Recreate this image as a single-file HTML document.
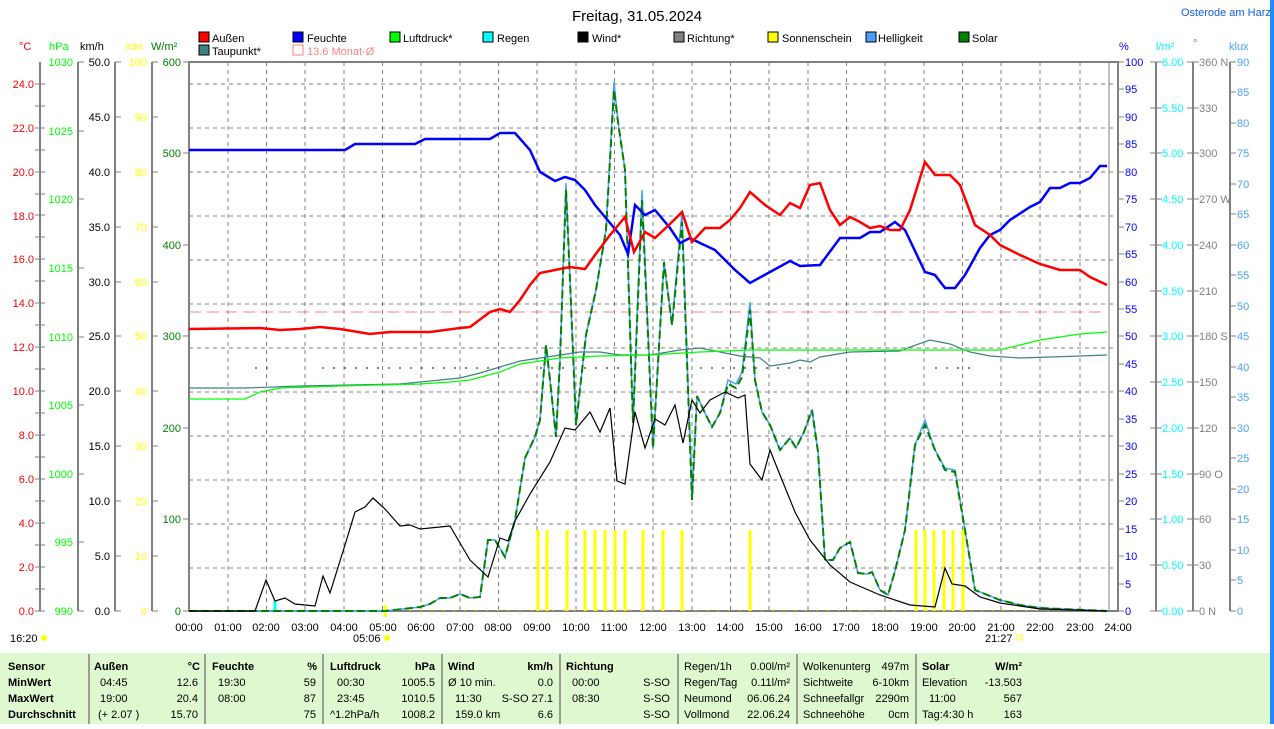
<!DOCTYPE html>
<html><head><meta charset="utf-8">
<style>
body{margin:0;width:1274px;height:724px;overflow:hidden;background:#fff;font-family:"Liberation Sans",sans-serif;}
svg text{font-family:"Liberation Sans",sans-serif;font-size:11px;}
</style></head><body>
<svg width="1274" height="724" viewBox="0 0 1274 724" xmlns="http://www.w3.org/2000/svg">
<rect x="1270" y="0" width="4" height="724" fill="#1e8cff"/>
<text x="637" y="21" text-anchor="middle" style="font-size:15px">Freitag, 31.05.2024</text>
<text x="1181" y="16" fill="#1060e0" style="font-size:11px">Osterode am Harz</text>

<g stroke="#000" stroke-width="1">
<rect x="199" y="32" width="10" height="10" fill="#f00"/>
<rect x="293" y="32" width="10" height="10" fill="#00f"/>
<rect x="390" y="32" width="10" height="10" fill="#0f0"/>
<rect x="483" y="32" width="10" height="10" fill="#0ff"/>
<rect x="578" y="32" width="10" height="10" fill="#000"/>
<rect x="674" y="32" width="10" height="10" fill="#808080"/>
<rect x="768" y="32" width="10" height="10" fill="#ff0"/>
<rect x="866" y="32" width="10" height="10" fill="#4aa0ff"/>
<rect x="959" y="32" width="10" height="10" fill="#008000"/>
<rect x="199" y="45" width="10" height="10" fill="#408080"/>
</g>
<rect x="293" y="45" width="10" height="10" fill="none" stroke="#ff8080"/>
<g font-size="11">
<text x="212" y="42">Außen</text><text x="307" y="42">Feuchte</text><text x="403" y="42">Luftdruck*</text>
<text x="497" y="42">Regen</text><text x="592" y="42">Wind*</text><text x="687" y="42">Richtung*</text>
<text x="782" y="42">Sonnenschein</text><text x="878" y="42">Helligkeit</text><text x="972" y="42">Solar</text>
<text x="212" y="55">Taupunkt*</text><text x="307" y="55" fill="#ff8080">13.6 Monat-Ø</text>
</g>

<text x="19" y="50" fill="#f00">°C</text>
<text x="49" y="50" fill="#0f0">hPa</text>
<text x="80" y="50">km/h</text>
<text x="125" y="50" fill="#ff0">min</text>
<text x="151" y="50" fill="#008000">W/m²</text>
<text x="1119" y="50" fill="#00f">%</text>
<text x="1156" y="50" fill="#0ff">l/m²</text>
<text x="1193" y="47" fill="#808080">°</text>
<text x="1229" y="50" fill="#4aa0ff">klux</text>

<g stroke="#808080" stroke-dasharray="4,4" stroke-width="1">
<path d="M228,62V611M266.5,62V611M305,62V611M344,62V611M382.5,62V611M421,62V611M460,62V611M498.5,62V611M537,62V611M576,62V611M614.5,62V611M653,62V611M692,62V611M730.5,62V611M769,62V611M808,62V611M846.5,62V611M885,62V611M924,62V611M962.5,62V611M1001,62V611M1040,62V611M1080,62V611"/>
<path d="M189,84H1118M189,128H1118M189,172H1118M189,216H1118M189,260H1118M189,304H1118M189,348H1118M189,392H1118M189,436H1118M189,480H1118M189,524H1118M189,568H1118"/>
</g>
<path d="M1109,62V611" stroke="#808080"/>
<rect x="189" y="62" width="929" height="549" fill="none" stroke="#808080" stroke-width="2"/>

<path d="M189,312H1107" stroke="#ff8080" stroke-dasharray="12,6"/>
<g stroke="#808080" stroke-width="2" stroke-dasharray="2,9">
<path d="M255,368H270M322,368H500M540,368H620M700,368H820M935,368H975"/>
</g>
<path d="M189,610H1107" stroke="#ff0" stroke-dasharray="2,9"/>

<g stroke="#ff0" stroke-width="3">
<path d="M538,530V611M547,530V611M567,530V611M585,530V611M595,530V611M605,530V611M615,530V611M625,530V611M643,530V611M663,530V611M682,530V611M750,530V611M916,530V611M925,530V611M934,530V611M944,530V611M953,530V611M963,530V611M385,605V617"/>
</g>
<path d="M275,600V611" stroke="#0ff" stroke-width="3"/>

<polyline fill="none" stroke="#4aa0ff" stroke-width="1.5" points="189,611 385,611 420,607 430,604 440,598 450,598 460,594 470,598 480,597 488,540 495,540 505,557 515,520 525,458 535,437 540,420 546,345 550,380 556,437 560,360 566,183 570,280 576,425 586,335 596,290 606,230 614,82 618,122 625,170 633,423 642,190 653,448 664,262 672,325 682,212 692,500 697,396 705,413 712,427 720,413 728,380 736,384 742,372 750,302 755,380 762,412 770,425 780,450 790,438 796,448 804,432 812,410 818,452 825,560 833,560 840,548 850,542 858,573 867,574 872,572 880,590 888,595 895,571 905,530 915,445 925,420 935,450 945,468 955,470 965,530 975,590 1000,600 1020,605 1040,608 1107,611"/>
<polyline fill="none" stroke="#008000" stroke-width="2" stroke-dasharray="8,4" points="189,611 385,611 420,607 430,604 440,598 450,598 460,594 470,598 480,597 488,540 495,540 505,557 515,520 525,458 535,437 540,420 546,345 550,380 556,437 560,360 566,190 570,280 576,425 586,335 596,290 606,230 614,90 618,122 625,170 633,423 642,200 653,448 664,262 672,325 682,222 692,500 697,396 705,413 712,427 720,413 728,384 736,388 742,377 750,310 755,380 762,412 770,425 780,450 790,438 796,448 804,432 812,410 818,452 825,560 833,560 840,548 850,542 858,573 867,574 872,572 880,590 888,595 895,571 905,530 915,445 925,425 935,450 945,470 955,472 965,530 975,590 1000,600 1020,605 1040,608 1107,611"/>

<polyline fill="none" stroke="#000" stroke-width="1.2" points="189,611 255,611 266,580 275,601 285,598 295,604 315,606 323,576 330,593 345,545 355,512 365,507 373,498 385,509 400,526 410,525 420,529 450,526 470,560 488,577 500,538 508,541 515,521 530,494 550,462 565,428 575,430 590,412 600,432 610,408 617,481 625,484 635,412 645,448 655,419 665,425 675,405 683,443 692,400 700,413 710,400 725,392 738,398 745,395 750,464 762,480 770,450 780,475 795,512 810,540 830,565 850,582 880,595 910,605 935,607 945,568 952,584 965,586 980,597 1000,603 1040,609 1107,611"/>

<polyline fill="none" stroke="#408080" stroke-width="1.2" points="189,388 245,388 300,386 400,384 460,378 480,373 500,367 520,361 560,355 580,352 600,352 620,355 650,355 680,350 700,348 720,352 740,356 760,358 770,366 790,363 800,360 810,362 820,357 850,352 900,351 910,347 930,340 950,344 970,352 990,356 1020,358 1050,357 1080,356 1107,355"/>
<polyline fill="none" stroke="#0f0" stroke-width="1.2" points="189,399 245,399 260,392 280,388 340,386 420,384 450,382 470,380 500,372 520,364 560,358 600,356 650,355 700,352 750,350 800,350 900,350 1000,350 1020,345 1040,340 1080,334 1107,332"/>
<polyline fill="none" stroke="#00f" stroke-width="2.5" points="189,150 345,150 355,144 415,144 425,139 490,139 500,133 515,133 530,150 540,172 555,181 565,177 575,180 585,190 595,205 610,223 620,235 628,254 635,205 645,215 655,210 670,228 680,243 690,238 700,243 715,250 735,270 750,283 770,272 790,261 800,266 820,265 840,238 860,238 870,232 880,232 895,222 905,230 925,272 935,275 945,288 955,288 965,275 980,248 990,235 1000,230 1010,220 1030,207 1040,202 1050,188 1060,188 1070,183 1080,183 1090,178 1100,166 1107,166"/>
<polyline fill="none" stroke="#f00" stroke-width="2.5" points="189,329 260,328 280,330 300,329 320,327 340,329 370,334 390,332 430,332 460,328 470,327 490,312 500,309 510,312 520,300 530,285 540,273 555,270 570,267 585,269 595,255 610,235 625,217 634,252 645,232 655,238 670,224 682,212 692,242 705,228 720,228 730,220 740,208 750,192 765,205 780,215 790,203 800,208 810,185 820,183 830,210 840,225 850,217 860,222 870,228 880,226 890,230 900,230 910,210 925,162 935,175 950,175 960,185 975,225 990,235 1000,245 1020,255 1040,264 1060,270 1080,270 1090,277 1107,285"/>

<g stroke="#808080" stroke-width="2"><path d="M40,62V611M78,62V611M115,62V611M152,62V611"/></g>
<g stroke="#808080" stroke-width="1">
<path d="M35,611h10M35,589h10M35,567h10M35,545h10M35,523h10M35,501h10M35,479h10M35,457h10M35,435h10M35,413h10M35,391h10M35,369h10M35,347h10M35,325h10M35,303h10M35,281h10M35,259h10M35,237h10M35,215h10M35,194h10M35,172h10M35,150h10M35,128h10M35,106h10M35,84h10"/>
<path d="M78,611h6M78,542h6M78,474h6M78,405h6M78,337h6M78,268h6M78,199h6M78,131h6M78,62h6"/>
<path d="M115,611h6M115,556h6M115,501h6M115,446h6M115,391h6M115,336h6M115,282h6M115,227h6M115,172h6M115,117h6M115,62h6"/>
<path d="M152,611h6M152,556h6M152,501h6M152,446h6M152,391h6M152,336h6M152,282h6M152,227h6M152,172h6M152,117h6M152,62h6"/>
<path d="M183,611h6M183,519h6M183,428h6M183,336h6M183,245h6M183,153h6M183,62h6"/>
</g>
<g fill="#f00" text-anchor="end">
<text x="34" y="615">0.0</text><text x="34" y="571">2.0</text><text x="34" y="527">4.0</text><text x="34" y="483">6.0</text><text x="34" y="439">8.0</text><text x="34" y="395">10.0</text><text x="34" y="351">12.0</text><text x="34" y="307">14.0</text><text x="34" y="263">16.0</text><text x="34" y="220">18.0</text><text x="34" y="176">20.0</text><text x="34" y="132">22.0</text><text x="34" y="88">24.0</text>
</g>
<g fill="#0f0" text-anchor="end">
<text x="73" y="615">990</text><text x="73" y="546">995</text><text x="73" y="478">1000</text><text x="73" y="409">1005</text><text x="73" y="341">1010</text><text x="73" y="272">1015</text><text x="73" y="203">1020</text><text x="73" y="135">1025</text><text x="73" y="66">1030</text>
</g>
<g fill="#000" text-anchor="end">
<text x="110" y="615">0.0</text><text x="110" y="560">5.0</text><text x="110" y="505">10.0</text><text x="110" y="450">15.0</text><text x="110" y="395">20.0</text><text x="110" y="340">25.0</text><text x="110" y="286">30.0</text><text x="110" y="231">35.0</text><text x="110" y="176">40.0</text><text x="110" y="121">45.0</text><text x="110" y="66">50.0</text>
</g>
<g fill="#ff0" text-anchor="end">
<text x="147" y="615">0</text><text x="147" y="560">10</text><text x="147" y="505">20</text><text x="147" y="450">30</text><text x="147" y="395">40</text><text x="147" y="340">50</text><text x="147" y="286">60</text><text x="147" y="231">70</text><text x="147" y="176">80</text><text x="147" y="121">90</text><text x="147" y="66">100</text>
</g>
<g fill="#008000" text-anchor="end">
<text x="181" y="615">0</text><text x="181" y="523">100</text><text x="181" y="432">200</text><text x="181" y="340">300</text><text x="181" y="249">400</text><text x="181" y="157">500</text><text x="181" y="66">600</text>
</g>

<g stroke="#808080" stroke-width="2"><path d="M1156,62V611M1193,62V611M1230,62V611"/></g>
<g stroke="#808080" stroke-width="1">
<path d="M1118,611h6M1118,584h6M1118,556h6M1118,529h6M1118,501h6M1118,474h6M1118,446h6M1118,419h6M1118,391h6M1118,364h6M1118,336h6M1118,309h6M1118,282h6M1118,254h6M1118,227h6M1118,199h6M1118,172h6M1118,144h6M1118,117h6M1118,89h6M1118,62h6"/>
<path d="M1150,611h12M1150,565h12M1150,519h12M1150,474h12M1150,428h12M1150,382h12M1150,336h12M1150,291h12M1150,245h12M1150,199h12M1150,153h12M1150,108h12M1150,62h12"/>
<path d="M1187,611h12M1187,565h12M1187,519h12M1187,474h12M1187,428h12M1187,382h12M1187,336h12M1187,291h12M1187,245h12M1187,199h12M1187,153h12M1187,108h12M1187,62h12"/>
<path d="M1230,611h6M1230,580h6M1230,550h6M1230,519h6M1230,489h6M1230,458h6M1230,428h6M1230,397h6M1230,367h6M1230,336h6M1230,306h6M1230,275h6M1230,245h6M1230,214h6M1230,184h6M1230,153h6M1230,123h6M1230,92h6M1230,62h6"/>
</g>
<g fill="#00f">
<text x="1125" y="615">0</text><text x="1125" y="588">5</text><text x="1125" y="560">10</text><text x="1125" y="533">15</text><text x="1125" y="505">20</text><text x="1125" y="478">25</text><text x="1125" y="450">30</text><text x="1125" y="423">35</text><text x="1125" y="395">40</text><text x="1125" y="368">45</text><text x="1125" y="340">50</text><text x="1125" y="313">55</text><text x="1125" y="286">60</text><text x="1125" y="258">65</text><text x="1125" y="231">70</text><text x="1125" y="203">75</text><text x="1125" y="176">80</text><text x="1125" y="148">85</text><text x="1125" y="121">90</text><text x="1125" y="93">95</text><text x="1125" y="66">100</text>
</g>
<g fill="#0ff">
<text x="1162" y="615">0.00</text><text x="1162" y="569">0.50</text><text x="1162" y="523">1.00</text><text x="1162" y="478">1.50</text><text x="1162" y="432">2.00</text><text x="1162" y="386">2.50</text><text x="1162" y="340">3.00</text><text x="1162" y="295">3.50</text><text x="1162" y="249">4.00</text><text x="1162" y="203">4.50</text><text x="1162" y="157">5.00</text><text x="1162" y="112">5.50</text><text x="1162" y="66">6.00</text>
</g>
<g fill="#808080">
<text x="1199" y="615">0   N</text><text x="1199" y="569">30</text><text x="1199" y="523">60</text><text x="1199" y="478">90   O</text><text x="1199" y="432">120</text><text x="1199" y="386">150</text><text x="1199" y="340">180 S</text><text x="1199" y="295">210</text><text x="1199" y="249">240</text><text x="1199" y="203">270 W</text><text x="1199" y="157">300</text><text x="1199" y="112">330</text><text x="1199" y="66">360 N</text>
</g>
<g fill="#4aa0ff">
<text x="1237" y="615">0</text><text x="1237" y="584">5</text><text x="1237" y="554">10</text><text x="1237" y="523">15</text><text x="1237" y="493">20</text><text x="1237" y="462">25</text><text x="1237" y="432">30</text><text x="1237" y="401">35</text><text x="1237" y="371">40</text><text x="1237" y="340">45</text><text x="1237" y="310">50</text><text x="1237" y="279">55</text><text x="1237" y="249">60</text><text x="1237" y="218">65</text><text x="1237" y="188">70</text><text x="1237" y="157">75</text><text x="1237" y="127">80</text><text x="1237" y="96">85</text><text x="1237" y="66">90</text>
</g>

<g text-anchor="middle">
<text x="189" y="631">00:00</text><text x="228" y="631">01:00</text><text x="266" y="631">02:00</text><text x="305" y="631">03:00</text><text x="344" y="631">04:00</text><text x="383" y="631">05:00</text><text x="421" y="631">06:00</text><text x="460" y="631">07:00</text><text x="498" y="631">08:00</text><text x="537" y="631">09:00</text><text x="576" y="631">10:00</text><text x="614" y="631">11:00</text><text x="653" y="631">12:00</text><text x="692" y="631">13:00</text><text x="730" y="631">14:00</text><text x="769" y="631">15:00</text><text x="808" y="631">16:00</text><text x="846" y="631">17:00</text><text x="885" y="631">18:00</text><text x="924" y="631">19:00</text><text x="962" y="631">20:00</text><text x="1001" y="631">21:00</text><text x="1040" y="631">22:00</text><text x="1080" y="631">23:00</text><text x="1118" y="631">24:00</text>
</g>
<text x="10" y="642">16:20</text><circle cx="44" cy="638" r="3" fill="#ff0"/>
<text x="353" y="642">05:06</text><circle cx="387" cy="638" r="3" fill="#ff0"/>
<text x="985" y="642">21:27</text><rect x="1017" y="635" width="5" height="5" fill="none" stroke="#ff0"/>

<rect x="0" y="653" width="1270" height="71" fill="#e0f8d0"/>
<g stroke="#808080" stroke-width="1.5"><path d="M89,654V724M205,654V724M323,654V724M442,654V724M560,654V724M678,654V724M797,654V724M916,654V724"/></g>
<g font-weight="bold">
<text x="8" y="670">Sensor</text><text x="8" y="686">MinWert</text><text x="8" y="702">MaxWert</text><text x="8" y="718">Durchschnitt</text>
<text x="94" y="670">Außen</text><text x="200" y="670" text-anchor="end">°C</text>
<text x="212" y="670">Feuchte</text><text x="317" y="670" text-anchor="end">%</text>
<text x="330" y="670">Luftdruck</text><text x="435" y="670" text-anchor="end">hPa</text>
<text x="448" y="670">Wind</text><text x="553" y="670" text-anchor="end">km/h</text>
<text x="566" y="670">Richtung</text>
<text x="922" y="670">Solar</text><text x="1022" y="670" text-anchor="end">W/m²</text>
</g>
<g>
<text x="100" y="686">04:45</text><text x="198" y="686" text-anchor="end">12.6</text>
<text x="100" y="702">19:00</text><text x="198" y="702" text-anchor="end">20.4</text>
<text x="98" y="718">(+ 2.07 )</text><text x="198" y="718" text-anchor="end">15.70</text>
<text x="218" y="686">19:30</text><text x="316" y="686" text-anchor="end">59</text>
<text x="218" y="702">08:00</text><text x="316" y="702" text-anchor="end">87</text>
<text x="316" y="718" text-anchor="end">75</text>
<text x="337" y="686">00:30</text><text x="435" y="686" text-anchor="end">1005.5</text>
<text x="337" y="702">23:45</text><text x="435" y="702" text-anchor="end">1010.5</text>
<text x="330" y="718">^1.2hPa/h</text><text x="435" y="718" text-anchor="end">1008.2</text>
<text x="448" y="686">Ø 10 min.</text><text x="553" y="686" text-anchor="end">0.0</text>
<text x="455" y="702">11:30</text><text x="553" y="702" text-anchor="end">S-SO 27.1</text>
<text x="455" y="718">159.0 km</text><text x="553" y="718" text-anchor="end">6.6</text>
<text x="572" y="686">00:00</text><text x="572" y="702">08:30</text>
<text x="670" y="686" text-anchor="end">S-SO</text><text x="670" y="702" text-anchor="end">S-SO</text><text x="670" y="718" text-anchor="end">S-SO</text>
<text x="684" y="670">Regen/1h</text><text x="790" y="670" text-anchor="end">0.00l/m²</text>
<text x="684" y="686">Regen/Tag</text><text x="790" y="686" text-anchor="end">0.11l/m²</text>
<text x="684" y="702">Neumond</text><text x="790" y="702" text-anchor="end">06.06.24</text>
<text x="684" y="718">Vollmond</text><text x="790" y="718" text-anchor="end">22.06.24</text>
<text x="803" y="670">Wolkenunterg</text><text x="909" y="670" text-anchor="end">497m</text>
<text x="803" y="686">Sichtweite</text><text x="909" y="686" text-anchor="end">6-10km</text>
<text x="803" y="702">Schneefallgr</text><text x="909" y="702" text-anchor="end">2290m</text>
<text x="803" y="718">Schneehöhe</text><text x="909" y="718" text-anchor="end">0cm</text>
<text x="922" y="686">Elevation</text><text x="1022" y="686" text-anchor="end">-13.503</text>
<text x="929" y="702">11:00</text><text x="1022" y="702" text-anchor="end">567</text>
<text x="922" y="718">Tag:4:30 h</text><text x="1022" y="718" text-anchor="end">163</text>
</g>
</svg>
</body></html>
